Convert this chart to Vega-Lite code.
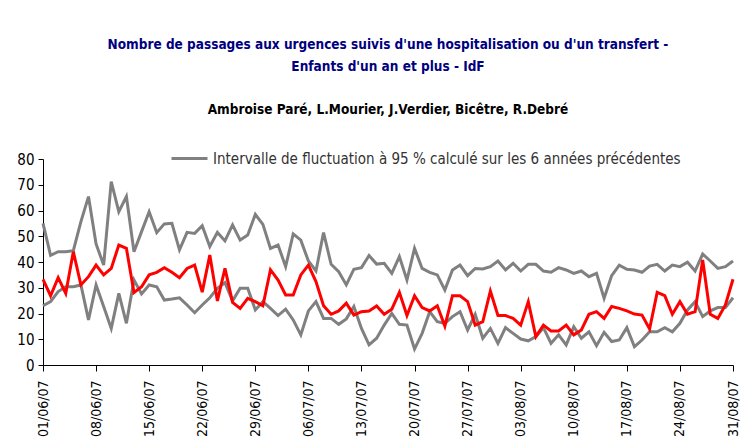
{
  "$schema": "https://vega.github.io/schema/vega-lite/v6.json",
  "width": 690,
  "height": 206,
  "padding": {"left": 13, "top": 38, "right": 10, "bottom": 0},
  "background": "white",
  "title": {
    "text": ["Nombre de passages aux urgences suivis d'une hospitalisation ou d'un transfert -", "Enfants d'un an et plus - IdF"],
    "subtitle": "Ambroise Paré, L.Mourier, J.Verdier, Bicêtre, R.Debré",
    "color": "#000080",
    "font": "'DejaVu Sans Condensed', 'Roboto Condensed', 'Open Sans Condensed', 'Liberation Sans Narrow', 'Noto Sans', sans-serif",
    "fontSize": 13.5,
    "fontWeight": "bold",
    "lineHeight": 22,
    "subtitleFont": "'DejaVu Sans Condensed', 'Roboto Condensed', 'Open Sans Condensed', 'Liberation Sans Narrow', 'Noto Sans', sans-serif",
    "subtitleFontSize": 13.5,
    "subtitleFontWeight": "bold",
    "subtitleColor": "#000000",
    "subtitlePadding": 29,
    "offset": 23,
    "anchor": "middle"
  },
  "data": {
    "values": [
      {"d":"2007-06-01","sup":55,"inf":23,"obs":33.3},
      {"d":"2007-06-02","sup":42.6,"inf":24.6,"obs":26.9},
      {"d":"2007-06-03","sup":44,"inf":28.5,"obs":33.9},
      {"d":"2007-06-04","sup":44,"inf":30.4,"obs":27.8},
      {"d":"2007-06-05","sup":44.4,"inf":30.4,"obs":44},
      {"d":"2007-06-06","sup":55.7,"inf":31.1,"obs":31.1},
      {"d":"2007-06-07","sup":65.4,"inf":17.5,"obs":34.3},
      {"d":"2007-06-08","sup":47,"inf":31.1,"obs":38.8},
      {"d":"2007-06-09","sup":38.8,"inf":22.7,"obs":35},
      {"d":"2007-06-10","sup":71.2,"inf":14.2,"obs":37.5},
      {"d":"2007-06-11","sup":59.5,"inf":27.8,"obs":46.6},
      {"d":"2007-06-12","sup":65.4,"inf":16.2,"obs":45.3},
      {"d":"2007-06-13","sup":44,"inf":33,"obs":28.1},
      {"d":"2007-06-14","sup":51.8,"inf":27.6,"obs":30.4},
      {"d":"2007-06-15","sup":59.5,"inf":31.1,"obs":35},
      {"d":"2007-06-16","sup":51.4,"inf":30.4,"obs":36},
      {"d":"2007-06-17","sup":54.8,"inf":25.2,"obs":37.8},
      {"d":"2007-06-18","sup":55,"inf":25.6,"obs":36},
      {"d":"2007-06-19","sup":44.7,"inf":26.1,"obs":33.9},
      {"d":"2007-06-20","sup":51.5,"inf":23.3,"obs":37.5},
      {"d":"2007-06-21","sup":51.1,"inf":20.3,"obs":38.8},
      {"d":"2007-06-22","sup":54.1,"inf":23.3,"obs":28.3},
      {"d":"2007-06-23","sup":46,"inf":26.1,"obs":42.7},
      {"d":"2007-06-24","sup":51.5,"inf":29.8,"obs":24.9},
      {"d":"2007-06-25","sup":48.2,"inf":32,"obs":37.5},
      {"d":"2007-06-26","sup":54.4,"inf":24.9,"obs":24.3},
      {"d":"2007-06-27","sup":48.5,"inf":29.8,"obs":22},
      {"d":"2007-06-28","sup":50.5,"inf":29.8,"obs":25.9},
      {"d":"2007-06-29","sup":58.5,"inf":21.4,"obs":24.6},
      {"d":"2007-06-30","sup":54.6,"inf":24.6,"obs":23},
      {"d":"2007-07-01","sup":45.3,"inf":22,"obs":37},
      {"d":"2007-07-02","sup":46.6,"inf":19.2,"obs":33},
      {"d":"2007-07-03","sup":38.2,"inf":21.7,"obs":27.2},
      {"d":"2007-07-04","sup":50.9,"inf":17.5,"obs":27.2},
      {"d":"2007-07-05","sup":48.5,"inf":11.7,"obs":35},
      {"d":"2007-07-06","sup":40.4,"inf":21,"obs":38.8},
      {"d":"2007-07-07","sup":36.5,"inf":24.6,"obs":32.4},
      {"d":"2007-07-08","sup":51.4,"inf":18.1,"obs":23},
      {"d":"2007-07-09","sup":39.1,"inf":18.1,"obs":19.7},
      {"d":"2007-07-10","sup":36.2,"inf":15.8,"obs":21},
      {"d":"2007-07-11","sup":31.1,"inf":17.9,"obs":24},
      {"d":"2007-07-12","sup":37.2,"inf":22.7,"obs":19.4},
      {"d":"2007-07-13","sup":37.8,"inf":14.2,"obs":20.7},
      {"d":"2007-07-14","sup":42.5,"inf":7.8,"obs":21},
      {"d":"2007-07-15","sup":39.2,"inf":10.4,"obs":22.9},
      {"d":"2007-07-16","sup":39.5,"inf":15.5,"obs":19.7},
      {"d":"2007-07-17","sup":35.6,"inf":20,"obs":21.7},
      {"d":"2007-07-18","sup":42.1,"inf":15.8,"obs":28.2},
      {"d":"2007-07-19","sup":33,"inf":15.5,"obs":19.2},
      {"d":"2007-07-20","sup":45.3,"inf":6.2,"obs":26.9},
      {"d":"2007-07-21","sup":37.5,"inf":12.3,"obs":22.3},
      {"d":"2007-07-22","sup":36,"inf":20.7,"obs":21},
      {"d":"2007-07-23","sup":35,"inf":16.8,"obs":23},
      {"d":"2007-07-24","sup":29.1,"inf":16.2,"obs":15.1},
      {"d":"2007-07-25","sup":36.9,"inf":18.8,"obs":26.9},
      {"d":"2007-07-26","sup":38.8,"inf":20.7,"obs":26.9},
      {"d":"2007-07-27","sup":34.7,"inf":13.6,"obs":24.6},
      {"d":"2007-07-28","sup":37.5,"inf":19.7,"obs":15.5},
      {"d":"2007-07-29","sup":37.3,"inf":10.4,"obs":16.8},
      {"d":"2007-07-30","sup":38.2,"inf":14.2,"obs":28.7},
      {"d":"2007-07-31","sup":40.4,"inf":8.4,"obs":19.2},
      {"d":"2007-08-01","sup":36.9,"inf":14.5,"obs":19.2},
      {"d":"2007-08-02","sup":39.5,"inf":12.3,"obs":18.1},
      {"d":"2007-08-03","sup":36.5,"inf":10.1,"obs":15.5},
      {"d":"2007-08-04","sup":39.1,"inf":9.4,"obs":24.6},
      {"d":"2007-08-05","sup":39.1,"inf":11,"obs":11},
      {"d":"2007-08-06","sup":36.5,"inf":14.5,"obs":15.5},
      {"d":"2007-08-07","sup":36,"inf":8.4,"obs":13.2},
      {"d":"2007-08-08","sup":37.8,"inf":11.7,"obs":13.2},
      {"d":"2007-08-09","sup":36.9,"inf":7.8,"obs":15.5},
      {"d":"2007-08-10","sup":35.6,"inf":14.9,"obs":11.7},
      {"d":"2007-08-11","sup":36.5,"inf":10.4,"obs":13.6},
      {"d":"2007-08-12","sup":34.3,"inf":12.9,"obs":19.7},
      {"d":"2007-08-13","sup":35.6,"inf":7.5,"obs":20.7},
      {"d":"2007-08-14","sup":25.9,"inf":12.7,"obs":18.1},
      {"d":"2007-08-15","sup":34.7,"inf":9.1,"obs":22.7},
      {"d":"2007-08-16","sup":38.8,"inf":9.7,"obs":22},
      {"d":"2007-08-17","sup":37.2,"inf":14.5,"obs":21},
      {"d":"2007-08-18","sup":36.9,"inf":7.1,"obs":19.8},
      {"d":"2007-08-19","sup":36,"inf":9.7,"obs":19.4},
      {"d":"2007-08-20","sup":38.4,"inf":12.9,"obs":14},
      {"d":"2007-08-21","sup":39.1,"inf":12.9,"obs":28.2},
      {"d":"2007-08-22","sup":36.5,"inf":14.5,"obs":26.9},
      {"d":"2007-08-23","sup":38.8,"inf":12.9,"obs":19.7},
      {"d":"2007-08-24","sup":38.2,"inf":16.2,"obs":24.6},
      {"d":"2007-08-25","sup":39.9,"inf":21.4,"obs":19.7},
      {"d":"2007-08-26","sup":36.5,"inf":24.6,"obs":20.7},
      {"d":"2007-08-27","sup":43.1,"inf":18.8,"obs":40.8},
      {"d":"2007-08-28","sup":40.4,"inf":21,"obs":19.7},
      {"d":"2007-08-29","sup":37.5,"inf":22.3,"obs":18.1},
      {"d":"2007-08-30","sup":38.2,"inf":22.3,"obs":23.3},
      {"d":"2007-08-31","sup":40.4,"inf":26.1,"obs":33.3}
    ]
  },
  "transform": [{"fold": ["sup", "inf", "obs"], "as": ["serie", "val"]}],
  "encoding": {
    "x": {
      "field": "d",
      "type": "temporal",
      "scale": {"type": "utc", "domain": [{"year": 2007, "month": 6, "date": 1, "utc": true}, {"year": 2007, "month": 8, "date": 31, "utc": true}]},
      "axis": {
        "title": null,
        "format": "%d/%m/%y",
        "labelAngle": -90,
        "labelFont": "'DejaVu Sans Condensed', 'Roboto Condensed', 'Open Sans Condensed', 'Liberation Sans Narrow', 'Noto Sans', sans-serif",
        "labelFontSize": 14,
        "labelColor": "#000000",
        "labelPadding": 9,
        "tickSize": 6,
        "grid": false,
        "labelOverlap": false,
        "values": [
          {"year": 2007, "month": 6, "date": 1, "utc": true},
          {"year": 2007, "month": 6, "date": 8, "utc": true},
          {"year": 2007, "month": 6, "date": 15, "utc": true},
          {"year": 2007, "month": 6, "date": 22, "utc": true},
          {"year": 2007, "month": 6, "date": 29, "utc": true},
          {"year": 2007, "month": 7, "date": 6, "utc": true},
          {"year": 2007, "month": 7, "date": 13, "utc": true},
          {"year": 2007, "month": 7, "date": 20, "utc": true},
          {"year": 2007, "month": 7, "date": 27, "utc": true},
          {"year": 2007, "month": 8, "date": 3, "utc": true},
          {"year": 2007, "month": 8, "date": 10, "utc": true},
          {"year": 2007, "month": 8, "date": 17, "utc": true},
          {"year": 2007, "month": 8, "date": 24, "utc": true},
          {"year": 2007, "month": 8, "date": 31, "utc": true}
        ]
      }
    },
    "y": {
      "field": "val",
      "type": "quantitative",
      "scale": {"domain": [0, 80], "nice": false},
      "axis": {
        "title": null,
        "values": [0, 10, 20, 30, 40, 50, 60, 70, 80],
        "labelOverlap": false,
        "grid": false,
        "labelFont": "'DejaVu Sans Condensed', 'Roboto Condensed', 'Open Sans Condensed', 'Liberation Sans Narrow', 'Noto Sans', sans-serif",
        "labelFontSize": 15,
        "labelColor": "#000000",
        "labelPadding": 4,
        "tickSize": 5,
        "minExtent": 30,
        "maxExtent": 30
      }
    }
  },
  "layer": [
    {
      "transform": [{"filter": "datum.serie !== 'obs'"}],
      "mark": {"type": "line", "strokeWidth": 3, "strokeJoin": "miter"},
      "encoding": {
        "detail": {"field": "serie"},
        "color": {
          "datum": "Intervalle de fluctuation à 95 % calculé sur les 6 années précédentes",
          "scale": {"range": ["#808080"]},
          "legend": {
            "title": null,
            "orient": "none",
            "legendX": 127,
            "legendY": -20,
            "symbolType": "stroke",
            "symbolSize": 1296,
            "symbolStrokeWidth": 3,
            "labelFont": "'DejaVu Sans Condensed', 'Roboto Condensed', 'Open Sans Condensed', 'Liberation Sans Narrow', 'Noto Sans', sans-serif",
            "labelFontSize": 15,
            "labelColor": "#333333",
            "labelLimit": 600
          }
        }
      }
    },
    {
      "transform": [{"filter": "datum.serie === 'obs'"}],
      "mark": {"type": "line", "color": "#ff0000", "strokeWidth": 3, "strokeJoin": "miter"},
      "encoding": {}
    }
  ],
  "config": {
    "view": {"stroke": null},
    "axis": {"domainColor": "#000000", "tickColor": "#000000", "domainWidth": 1, "tickWidth": 1}
  }
}
